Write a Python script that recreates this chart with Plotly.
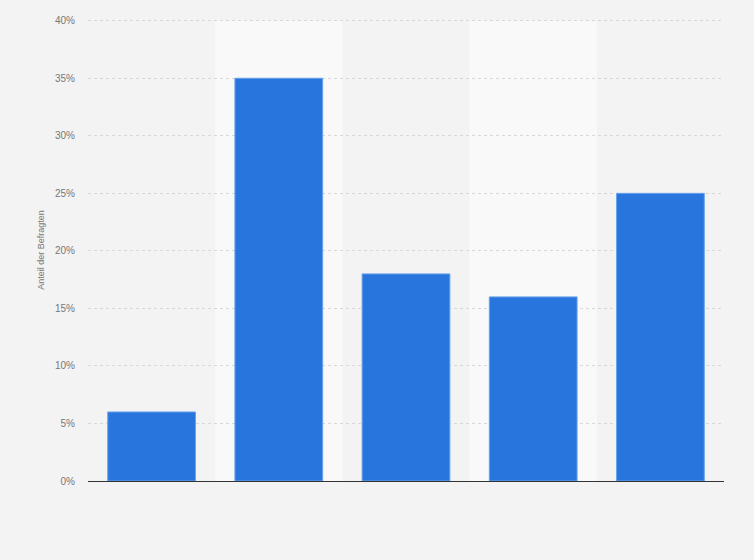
import plotly.graph_objects as go

categories = ["A", "B", "C", "D", "E"]
values = [6, 35, 18, 16, 25]
y_ticks = [0, 5, 10, 15, 20, 25, 30, 35, 40]
y_labels = [str(t) + "%" for t in y_ticks]

fig = go.Figure()
fig.add_trace(go.Bar(
    x=categories, y=values,
    marker=dict(color="#2876dd", line=dict(color="#6aa3eb", width=1)),
    width=0.69,
))

# lighter background bands behind every second category
shapes = []
for i in range(len(categories)):
    if i % 2 == 1:
        shapes.append(dict(type="rect", xref="x", yref="y",
                           x0=i - 0.5, x1=i + 0.5, y0=0, y1=40,
                           fillcolor="#f9f9f9", line=dict(width=0), layer="below"))

fig.update_layout(
    width=754, height=560,
    margin=dict(l=88, r=30, t=19, b=79),
    paper_bgcolor="#f3f3f3", plot_bgcolor="#f3f3f3",
    shapes=shapes,
    showlegend=False,
    font=dict(family="Arial, Liberation Sans, sans-serif", size=10, color="#777777"),
    xaxis=dict(showticklabels=False, showgrid=False, zeroline=False,
               range=[-0.5, len(categories) - 0.5]),
    yaxis=dict(range=[0, 40.15], tickvals=y_ticks, ticktext=y_labels,
               showgrid=True, gridcolor="#d8d8d8", griddash="dot", gridwidth=1,
               zeroline=True, zerolinecolor="#333333", zerolinewidth=1,
               ticks="", ticklabelstandoff=12,
               title=dict(text="Anteil der Befragten", font=dict(size=9, color="#777777"), standoff=8)),
)

fig.write_html("out.html", config={"displayModeBar": False},
               post_script="document.body.style.margin='0';")
